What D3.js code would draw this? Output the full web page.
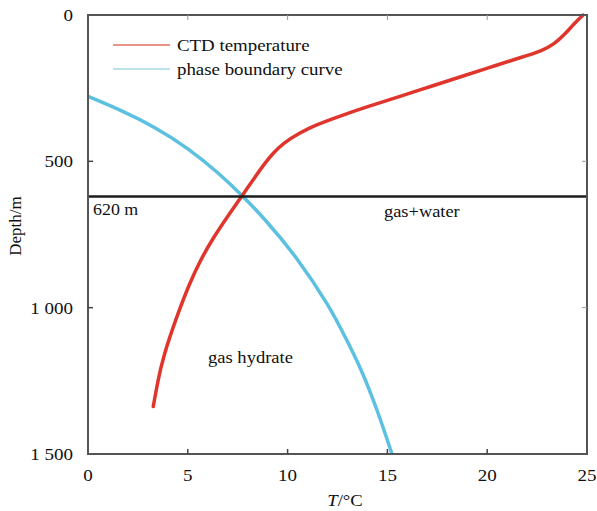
<!DOCTYPE html>
<html>
<head>
<meta charset="utf-8">
<script src="https://cdn.jsdelivr.net/npm/d3@7"></script>
<style>
  body { margin: 0; background: #fff; }
  text { font-family: "Liberation Serif", "Times New Roman", serif; fill: #111; }
</style>
</head>
<body>
<svg id="chart"></svg>
<script>
var width = 597;
var height = 511;

// CTD temperature profile: temperature (°C) vs depth (m)
var ctdTemp  = [24.8, 24.35, 23.9, 23.35, 22.75, 21.7, 20.3, 18.95, 17.35, 15.55, 14.0, 12.55, 11.4, 10.6, 9.8, 9.3, 8.92, 8.38, 7.7, 7.11, 6.2, 5.62, 5.1, 4.44, 3.77, 3.5, 3.27];
var ctdDepth = [0, 30, 65, 100, 122, 145, 175, 205, 240, 280, 313, 347, 376, 403, 437, 470, 501, 552, 620, 677, 769, 840, 915, 1031, 1167, 1250, 1338];

// hydrate phase boundary
var phaseTemp  = [0, 1.65, 3.36, 5.0, 6.55, 7.7, 8.77, 10.47, 12.12, 12.88, 13.65, 14.5, 15.23];
var phaseDepth = [278, 325, 383, 454, 540, 615, 690, 827, 998, 1100, 1203, 1350, 1500];

var xTicks = [0, 5, 10, 15, 20, 25];
var yTicks = [0, 500, 1000, 1500];
var yTickLabels = ['0', '500', '1 000', '1 500'];
var hydrateTop = 620;

var margin = {top: 15, right: 10, bottom: 57, left: 88};
var plotW = width - margin.left - margin.right;
var plotH = height - margin.top - margin.bottom;

var x = d3.scaleLinear().domain([0, 25]).range([0, plotW]);
var y = d3.scaleLinear().domain([0, 1500]).range([0, plotH]);

var svg = d3.select('#chart')
    .attr('width', width)
    .attr('height', height);

var g = svg.append('g')
    .attr('transform', 'translate(' + margin.left + ',' + margin.top + ')');

// the serif labels are set slightly wide
function widen(sel, k) {
  sel.each(function() {
    var t = d3.select(this);
    var tx = +t.attr('x'), ty = +t.attr('y');
    t.attr('x', 0).attr('y', 0)
     .attr('transform', 'translate(' + tx + ',' + ty + ') scale(' + k + ',1)');
  });
}

var line = d3.line()
    .x(d => x(d[0]))
    .y(d => y(d[1]))
    .curve(d3.curveBasis);

g.append('path')
    .datum(d3.zip(phaseTemp, phaseDepth))
    .attr('fill', 'none')
    .attr('stroke', '#5cc1e0')
    .attr('stroke-width', 3.5)
    .attr('d', line);

g.append('path')
    .datum(d3.zip(ctdTemp, ctdDepth))
    .attr('fill', 'none')
    .attr('stroke', '#e0352c')
    .attr('stroke-width', 3.5)
    .attr('stroke-linecap', 'round')
    .attr('d', line);

// 620 m line
g.append('line')
    .attr('x1', 0).attr('x2', plotW)
    .attr('y1', y(hydrateTop)).attr('y2', y(hydrateTop))
    .attr('stroke', '#1c1c1c')
    .attr('stroke-width', 2.5);

// frame
g.append('rect')
    .attr('width', plotW).attr('height', plotH)
    .attr('fill', 'none')
    .attr('stroke', '#555')
    .attr('stroke-width', 2);

// ticks, drawn inward on all sides
var tickColor = '#444';
g.selectAll('.xt-bot').data(xTicks.slice(1, -1)).enter().append('line')
    .attr('x1', d => x(d)).attr('x2', d => x(d))
    .attr('y1', plotH).attr('y2', plotH - 5)
    .attr('stroke', tickColor).attr('stroke-width', 1.5);
g.selectAll('.xt-top').data(xTicks.slice(1, -1)).enter().append('line')
    .attr('x1', d => x(d)).attr('x2', d => x(d))
    .attr('y1', 0).attr('y2', 5)
    .attr('stroke', '#999').attr('stroke-width', 1);
g.selectAll('.yt-left').data(yTicks.slice(1, -1)).enter().append('line')
    .attr('x1', 0).attr('x2', 5)
    .attr('y1', d => y(d)).attr('y2', d => y(d))
    .attr('stroke', tickColor).attr('stroke-width', 1.5);
g.selectAll('.yt-right').data(yTicks.slice(1, -1)).enter().append('line')
    .attr('x1', plotW).attr('x2', plotW - 5)
    .attr('y1', d => y(d)).attr('y2', d => y(d))
    .attr('stroke', '#999').attr('stroke-width', 1);

// tick labels
g.selectAll('.xl').data(xTicks).enter().append('text')
    .attr('x', d => x(d))
    .attr('y', plotH + 27)
    .style('text-anchor', 'middle')
    .style('font-size', '17px')
    .text(d => d)
    .call(widen, 1.12);

g.selectAll('.yl').data(yTicks).enter().append('text')
    .attr('x', -15)
    .attr('y', d => y(d) + 6)
    .style('text-anchor', 'end')
    .style('font-size', '17px')
    .text((d, i) => yTickLabels[i])
    .call(widen, 1.12);

// axis titles
var xt = svg.append('text')
    .attr('x', 345)
    .attr('y', 506)
    .style('text-anchor', 'middle')
    .style('font-size', '17px');
xt.append('tspan').style('font-style', 'italic').text('T');
xt.append('tspan').text('/°C');
xt.call(widen, 1.1);

svg.append('text')
    .attr('transform', 'translate(21,226) rotate(-90)')
    .style('text-anchor', 'middle')
    .style('font-size', '17px')
    .text('Depth/m');

// region labels
g.append('text')
    .attr('x', 5).attr('y', y(hydrateTop) + 19)
    .style('font-size', '16px')
    .text('620 m')
    .call(widen, 1.12);

g.append('text')
    .attr('x', 296).attr('y', 202)
    .style('font-size', '16px')
    .text('gas+water')
    .call(widen, 1.15);

g.append('text')
    .attr('x', 120).attr('y', 348)
    .style('font-size', '16px')
    .text('gas hydrate')
    .call(widen, 1.16);

// legend
var legendItems = [
  {name: 'CTD temperature', color: '#e07062'},
  {name: 'phase boundary curve', color: '#a4d9e2'}
];
var legend = g.selectAll('.legend').data(legendItems).enter().append('g')
    .attr('transform', (d, i) => 'translate(25,' + (30 + i * 24) + ')');
legend.append('line')
    .attr('x1', 0).attr('x2', 57)
    .attr('stroke', d => d.color)
    .attr('stroke-width', 1.5);
legend.append('text')
    .attr('x', 64).attr('y', 6)
    .style('font-size', '16px')
    .text(d => d.name)
    .call(widen, 1.18);
</script>
</body>
</html>
